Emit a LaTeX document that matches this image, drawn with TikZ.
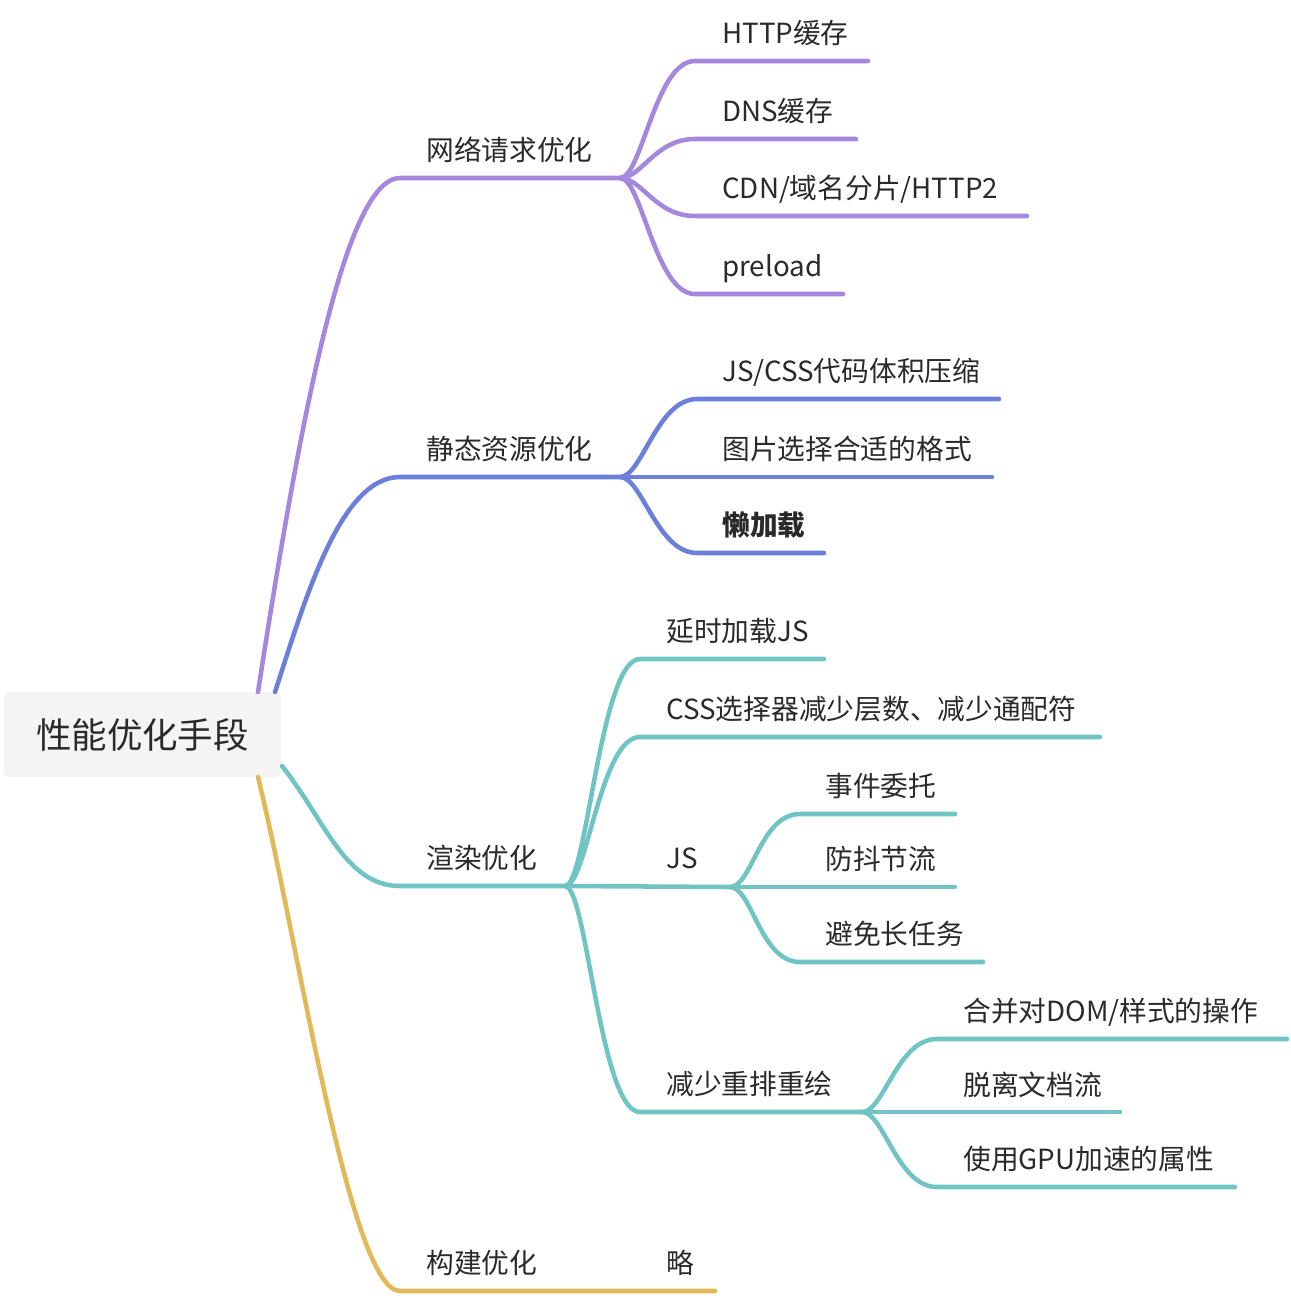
\documentclass[tikz,border=0pt]{standalone}
\usepackage{fontspec}
\setmainfont{Noto Sans CJK SC}
\usetikzlibrary{calc}
\definecolor{cpur}{HTML}{A587DE}
\definecolor{cblu}{HTML}{6C80DA}
\definecolor{ctea}{HTML}{70C4C4}
\definecolor{cgol}{HTML}{E2B858}
\definecolor{txt}{HTML}{2A2A2A}
\definecolor{rootbg}{HTML}{F4F4F4}
\newcommand\kidline[4]{\draw[br,#1] (#2) .. controls ($(#2)+(22,0)$) and ($(#3)+(-40,0)$) .. (#3) -- (#4);}
\begin{document}
\begin{tikzpicture}[x=0.75pt,y=-0.75pt,line cap=round,line join=round,
  br/.style={line width=3.4pt},
  lbl/.style={anchor=base west,inner sep=0pt,text=txt,font=\fontsize{20.8}{24}\selectfont},
  rootbox/.style={fill=rootbg,rounded corners=4.5pt,minimum width=207.75pt,minimum height=63.75pt,inner sep=0pt,text=txt,font=\fontsize{26.6}{30}\selectfont}]
\useasboundingbox (0,0) rectangle (1290,1296);
\fill[white] (0,0) rectangle (1290,1296);

% root
\node[rootbox] (root) at (142.5,734.5) {性能优化手段};

% anchor coordinates
\coordinate (rP) at (258,692);
\coordinate (rB) at (275,692);
\coordinate (rT) at (282,766);
\coordinate (rG) at (258,777);

% ---------- purple branch ----------
\coordinate (p0) at (400,178); \coordinate (pF) at (620,178);
\draw[br,cpur] (rP) .. controls (300,420) and (345,178) .. (p0) -- (pF);
\node[lbl] (pN) at (426,160) {网络请求优化};
\coordinate (p1s) at (695,61);  \coordinate (p1e) at (868,61);
\coordinate (p2s) at (695,139); \coordinate (p2e) at (856,139);
\coordinate (p3s) at (695,216); \coordinate (p3e) at (1027,216);
\coordinate (p4s) at (695,294); \coordinate (p4e) at (843,294);
\kidline{cpur}{pF}{p1s}{p1e}
\kidline{cpur}{pF}{p2s}{p2e}
\kidline{cpur}{pF}{p3s}{p3e}
\kidline{cpur}{pF}{p4s}{p4e}
\node[lbl] (p1) at (722,43) {HTTP缓存};
\node[lbl] (p2) at (722,121) {DNS缓存};
\node[lbl] (p3) at (722,198) {CDN/域名分片/HTTP2};
\node[lbl] (p4) at (722,276) {preload};

% ---------- blue branch ----------
\coordinate (b0) at (400,477); \coordinate (bF) at (620,477);
\draw[br,cblu] (rB) .. controls (305,600) and (340,477) .. (b0) -- (bF);
\node[lbl] (bN) at (426,459) {静态资源优化};
\coordinate (b1s) at (697,399); \coordinate (b1e) at (999,399);
\coordinate (b2e) at (992,477);
\coordinate (b3s) at (697,553); \coordinate (b3e) at (824,553);
\kidline{cblu}{bF}{b1s}{b1e}
\draw[br,cblu] (bF) -- (b2e);
\kidline{cblu}{bF}{b3s}{b3e}
\node[lbl] (b1) at (722,381) {JS/CSS代码体积压缩};
\node[lbl] (b2) at (722,459) {图片选择合适的格式};
\node[lbl] (b3) at (722,535) {\bfseries 懒加载};

% ---------- teal branch ----------
\coordinate (t0) at (400,886); \coordinate (tF) at (565,886);
\draw[br,ctea] (rT) .. controls (325,820) and (345,886) .. (t0) -- (tF);
\node[lbl] (tN) at (426,868) {渲染优化};
\coordinate (t1s) at (640,659);  \coordinate (t1e) at (824,659);
\coordinate (t2s) at (640,737);  \coordinate (t2e) at (1100,737);
\coordinate (jF) at (730,887);
\coordinate (t4s) at (640,1112); \coordinate (rF) at (862,1112);
\kidline{ctea}{tF}{t1s}{t1e}
\kidline{ctea}{tF}{t2s}{t2e}
\draw[br,ctea] (tF) -- (jF);
\kidline{ctea}{tF}{t4s}{rF}
\node[lbl] (t1) at (666,641) {延时加载JS};
\node[lbl] (t2) at (666,719) {CSS选择器减少层数、减少通配符};
\node[lbl] (t3) at (666,868) {JS};
\node[lbl] (t4) at (666,1094) {减少重排重绘};
% JS children
\coordinate (j1s) at (800,814); \coordinate (j1e) at (955,814);
\coordinate (j2e) at (955,887);
\coordinate (j3s) at (800,962); \coordinate (j3e) at (983,962);
\kidline{ctea}{jF}{j1s}{j1e}
\draw[br,ctea] (jF) -- (j2e);
\kidline{ctea}{jF}{j3s}{j3e}
\node[lbl] (j1) at (825,796) {事件委托};
\node[lbl] (j2) at (825,869) {防抖节流};
\node[lbl] (j3) at (825,944) {避免长任务};
% reflow children
\coordinate (r1s) at (937,1039); \coordinate (r1e) at (1287,1039);
\coordinate (r2e) at (1120,1112);
\coordinate (r3s) at (937,1187); \coordinate (r3e) at (1235,1187);
\kidline{ctea}{rF}{r1s}{r1e}
\draw[br,ctea] (rF) -- (r2e);
\kidline{ctea}{rF}{r3s}{r3e}
\node[lbl] (q1) at (963,1021) {合并对DOM/样式的操作};
\node[lbl] (q2) at (963,1095) {脱离文档流};
\node[lbl] (q3) at (963,1169) {使用GPU加速的属性};

% ---------- gold branch ----------
\coordinate (g0) at (400,1291); \coordinate (gF) at (620,1291); \coordinate (g1e) at (715,1291);
\draw[br,cgol] (rG) .. controls (298,940) and (350,1291) .. (g0) -- (gF) -- (g1e);
\node[lbl] (gN) at (426,1273) {构建优化};
\node[lbl] (g1) at (666,1273) {略};
\end{tikzpicture}
\end{document}
